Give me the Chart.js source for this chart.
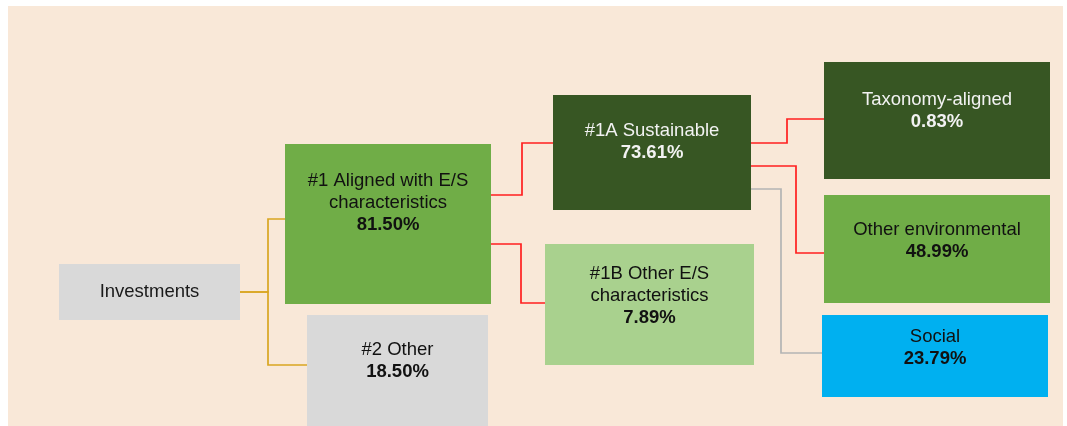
<!DOCTYPE html>
<html>
<head>
<meta charset="utf-8">
<script src="https://cdn.jsdelivr.net/npm/chart.js@4/dist/chart.umd.min.js"></script>
<style>
  html, body { margin: 0; padding: 0; background: #ffffff; }
  #wrap { width: 1067px; height: 426px; position: relative; }
</style>
</head>
<body>
<div id="wrap"><canvas id="treeCanvas"></canvas></div>
<script>
// Node names and the share of investments each one holds
const nodeLabels = [
    'Investments',
    '#1 Aligned with E/S\ncharacteristics',
    '#2 Other',
    '#1A Sustainable',
    '#1B Other E/S\ncharacteristics',
    'Taxonomy-aligned',
    'Other environmental',
    'Social'
];
const nodeShares = [null, 81.50, 18.50, 73.61, 7.89, 0.83, 48.99, 23.79];

// parent -> child links
const linkFrom = [0, 0, 1, 1, 3, 3, 3];
const linkTo   = [1, 2, 3, 4, 5, 6, 7];

// Layout (in scale units, matches the page size)
const boxLayout = [
    { x0: 59,  x1: 240,  y0: 264, y1: 320, ty: 292 },
    { x0: 285, x1: 491,  y0: 144, y1: 304, ty: 203 },
    { x0: 307, x1: 488,  y0: 315, y1: 440, ty: 361 },
    { x0: 553, x1: 751,  y0: 95,  y1: 210, ty: 142 },
    { x0: 545, x1: 754,  y0: 244, y1: 365, ty: 296 },
    { x0: 824, x1: 1050, y0: 62,  y1: 179, ty: 111 },
    { x0: 824, x1: 1050, y0: 195, y1: 303, ty: 241 },
    { x0: 822, x1: 1048, y0: 315, y1: 397, ty: 348 }
];
const boxColors = ['#d9d9d9', '#70ad47', '#d9d9d9', '#375623', '#a9d18e', '#375623', '#70ad47', '#00b0f0'];
const textColors = ['#1a1a1a', '#111111', '#111111', '#f2f2f2', '#111111', '#f2f2f2', '#111111', '#111111'];

// elbow connector layout: start y, elbow x, end y
const linkLayout = [
    { y1: 292, ex: 268, y2: 219 },
    { y1: 292, ex: 268, y2: 365 },
    { y1: 195, ex: 522, y2: 143 },
    { y1: 244, ex: 521, y2: 303 },
    { y1: 143, ex: 787, y2: 119 },
    { y1: 166, ex: 796, y2: 253 },
    { y1: 189, ex: 781, y2: 353 }
];
const linkColors = ['#d9a521', '#d9a521', '#ff1f1f', '#ff1f1f', '#ff1f1f', '#ff1f1f', '#b4b4b4'];

const FONT = '"Liberation Sans", Arial, sans-serif';

// Build one line dataset per link
const datasets = linkFrom.map(function(p, i) {
    const c = linkTo[i];
    const l = linkLayout[i];
    return {
        data: [
            { x: boxLayout[p].x1, y: l.y1 },
            { x: l.ex, y: l.y1 },
            { x: l.ex, y: l.y2 },
            { x: boxLayout[c].x0, y: l.y2 }
        ],
        borderColor: linkColors[i],
        borderWidth: 1.7,
        pointRadius: 0,
        showLine: true,
        tension: 0,
        fill: false
    };
});

// Background panel and boxes with text, drawn through the scales
const treePlugin = {
    id: 'treeBoxes',
    beforeDatasetsDraw(chart) {
        const ctx = chart.ctx;
        const xs = chart.scales.x, ys = chart.scales.y;
        ctx.save();
        ctx.fillStyle = '#f9e8d8';
        const x0 = xs.getPixelForValue(8), x1 = xs.getPixelForValue(1063);
        const y0 = ys.getPixelForValue(6), y1 = ys.getPixelForValue(426);
        ctx.fillRect(x0, y0, x1 - x0, y1 - y0);
        ctx.restore();
    },
    afterDatasetsDraw(chart) {
        const ctx = chart.ctx;
        const xs = chart.scales.x, ys = chart.scales.y;
        ctx.save();
        boxLayout.forEach(function(b, i) {
            const px0 = xs.getPixelForValue(b.x0), px1 = xs.getPixelForValue(b.x1);
            const py0 = ys.getPixelForValue(b.y0), py1 = ys.getPixelForValue(b.y1);
            ctx.fillStyle = boxColors[i];
            ctx.fillRect(px0, py0, px1 - px0, py1 - py0);

            const lines = nodeLabels[i].split('\n').map(t => ({ text: t, bold: false }));
            if (nodeShares[i] !== null) {
                lines.push({ text: nodeShares[i].toFixed(2) + '%', bold: true });
            }
            const lineH = 21.7;
            const cx = (px0 + px1) / 2;
            const cy = ys.getPixelForValue(b.ty);
            const top = cy - (lines.length - 1) * lineH / 2;
            ctx.fillStyle = textColors[i];
            ctx.textAlign = 'center';
            ctx.textBaseline = 'middle';
            lines.forEach(function(ln, k) {
                ctx.font = (ln.bold ? 'bold ' : '') + '18.5px ' + FONT;
                ctx.fillText(ln.text, cx, top + k * lineH);
            });
        });
        ctx.restore();
    }
};

const ctx = document.getElementById('treeCanvas').getContext('2d');
window.myChart = new Chart(ctx, {
    type: 'scatter',
    data: { datasets: datasets },
    options: {
        responsive: true,
        maintainAspectRatio: false,
        animation: false,
        layout: { padding: 0 },
        plugins: {
            legend: { display: false },
            tooltip: { enabled: false }
        },
        scales: {
            x: { type: 'linear', min: 0, max: 1067, display: false },
            y: { type: 'linear', min: 0, max: 426, reverse: true, display: false }
        }
    },
    plugins: [treePlugin]
});
</script>
</body>
</html>
